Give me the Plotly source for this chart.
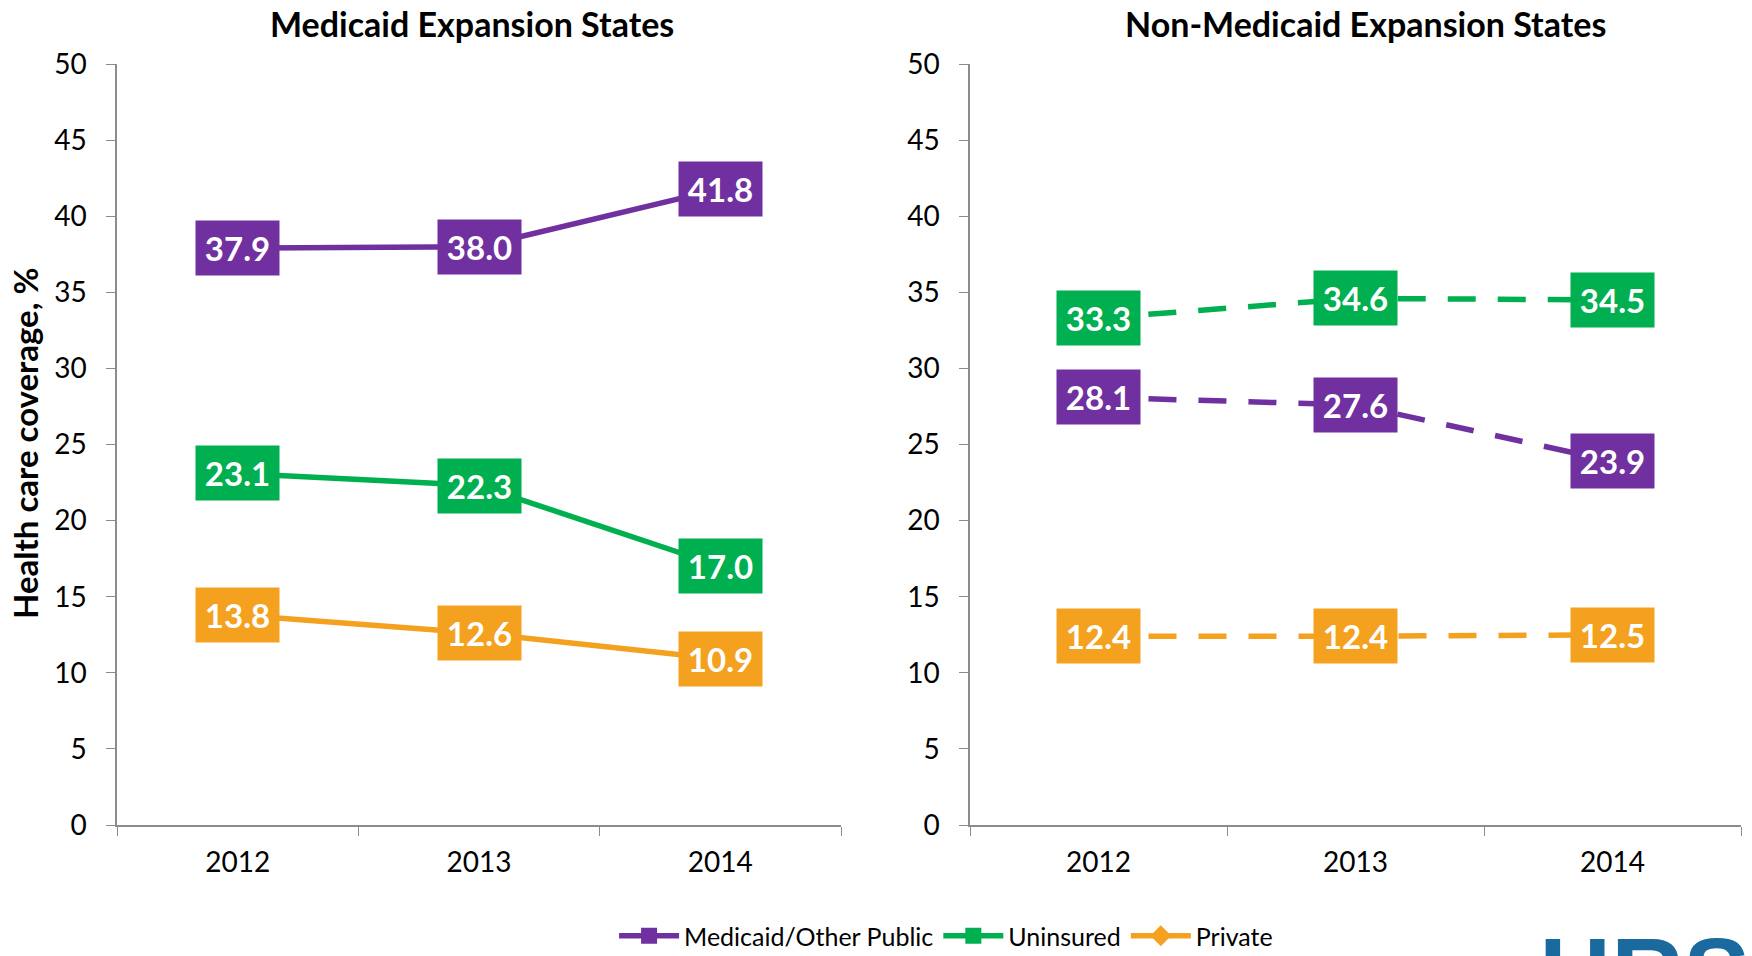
import plotly.graph_objects as go

years = ["2012", "2013", "2014"]

# Medicaid expansion states
exp_public = [37.9, 38.0, 41.8]
exp_uninsured = [23.1, 22.3, 17.0]
exp_private = [13.8, 12.6, 10.9]

# Non-Medicaid expansion states
non_public = [28.1, 27.6, 23.9]
non_uninsured = [33.3, 34.6, 34.5]
non_private = [12.4, 12.4, 12.5]

series_names = ["Medicaid/Other Public", "Uninsured", "Private"]
colors = ["#7030A0", "#00B050", "#F4A11F"]
symbols = ["square", "square", "diamond"]

FONT = "Lato"
W, H = 1752, 956

fig = go.Figure()

panels = [
    ("x", "y", [exp_public, exp_uninsured, exp_private], "solid", True),
    ("x2", "y2", [non_public, non_uninsured, non_private], "dash", False),
]

annotations = []
for xa, ya, data, dash, show in panels:
    for name, vals, col, sym in zip(series_names, data, colors, symbols):
        fig.add_trace(go.Scatter(
            x=years, y=vals, name=name, xaxis=xa, yaxis=ya,
            mode="lines+markers",
            line=dict(color=col, width=5.5, dash="28px,22px" if dash == "dash" else "solid"),
            marker=dict(symbol=sym, size=16, color=col),
            showlegend=show, hoverinfo="skip",
        ))
        # value boxes sitting on the points
        for i, v in enumerate(vals):
            annotations.append(dict(
                x=i, y=v, xref=xa, yref=ya, text="<b>%.1f</b>" % v,
                showarrow=False, bgcolor=col, borderpad=0,
                xanchor="center", yanchor="middle",
                font=dict(family=FONT, size=33, color="white"),
                width=83, height=54,
            ))

annotations += [
    dict(text="<b>Medicaid Expansion States</b>", x=472 / W, y=1 - 24 / H,
         xref="paper", yref="paper", showarrow=False, xanchor="center", yanchor="middle",
         font=dict(family=FONT, size=34, color="black")),
    dict(text="<b>Non-Medicaid Expansion States</b>", x=1365 / W, y=1 - 24 / H,
         xref="paper", yref="paper", showarrow=False, xanchor="center", yanchor="middle",
         font=dict(family=FONT, size=34, color="black")),
    dict(text="<b>Health care coverage, %</b>", x=25 / W, y=1 - 444 / H,
         xref="paper", yref="paper", showarrow=False, textangle=-90,
         xanchor="center", yanchor="middle",
         font=dict(family=FONT, size=33, color="black")),
    # logo, cut off by the bottom edge like in the original slide
    dict(text="<b>HRS</b>", x=1537 / W, y=1 - 915 / H, xref="paper", yref="paper",
         xanchor="left", yanchor="top", showarrow=False,
         font=dict(family="Liberation Sans", size=100, color="#1A6AA0")),
]

axis_common = dict(showline=True, linecolor="#8C8C8C", linewidth=1.5, showgrid=False,
                   zeroline=False, ticks="outside", tickcolor="#8C8C8C", ticklen=9,
                   automargin=False,
                   tickfont=dict(family=FONT, size=28, color="black"))

y_dom = [1 - 825 / H, 1 - 64 / H]
fig.update_layout(
    width=W, height=H, autosize=False,
    margin=dict(l=0, r=0, t=0, b=0, autoexpand=False),
    paper_bgcolor="white", plot_bgcolor="white",
    xaxis=dict(domain=[117 / W, 841 / W], anchor="y", tickson="boundaries",
               range=[-0.5, 2.5], ticklabelstandoff=12, **axis_common),
    yaxis=dict(domain=y_dom, anchor="x", range=[0, 50], dtick=5,
               ticklabelstandoff=14, **axis_common),
    xaxis2=dict(domain=[970 / W, 1741 / W], anchor="y2", tickson="boundaries",
                range=[-0.5, 2.5], ticklabelstandoff=12, **axis_common),
    yaxis2=dict(domain=y_dom, anchor="x2", range=[0, 50], dtick=5,
                ticklabelstandoff=14, **axis_common),
    legend=dict(orientation="h", x=0.54, xanchor="center", y=1 - 936 / H, yanchor="middle",
                font=dict(family=FONT, size=25, color="black"), itemwidth=60,
                bgcolor="rgba(0,0,0,0)"),
    annotations=annotations,
)

# drop the default page margin so the figure lines up with the window
fig.write_html("out.html", config={"displayModeBar": False},
               post_script="document.body.style.margin='0';document.body.style.overflow='hidden';")
